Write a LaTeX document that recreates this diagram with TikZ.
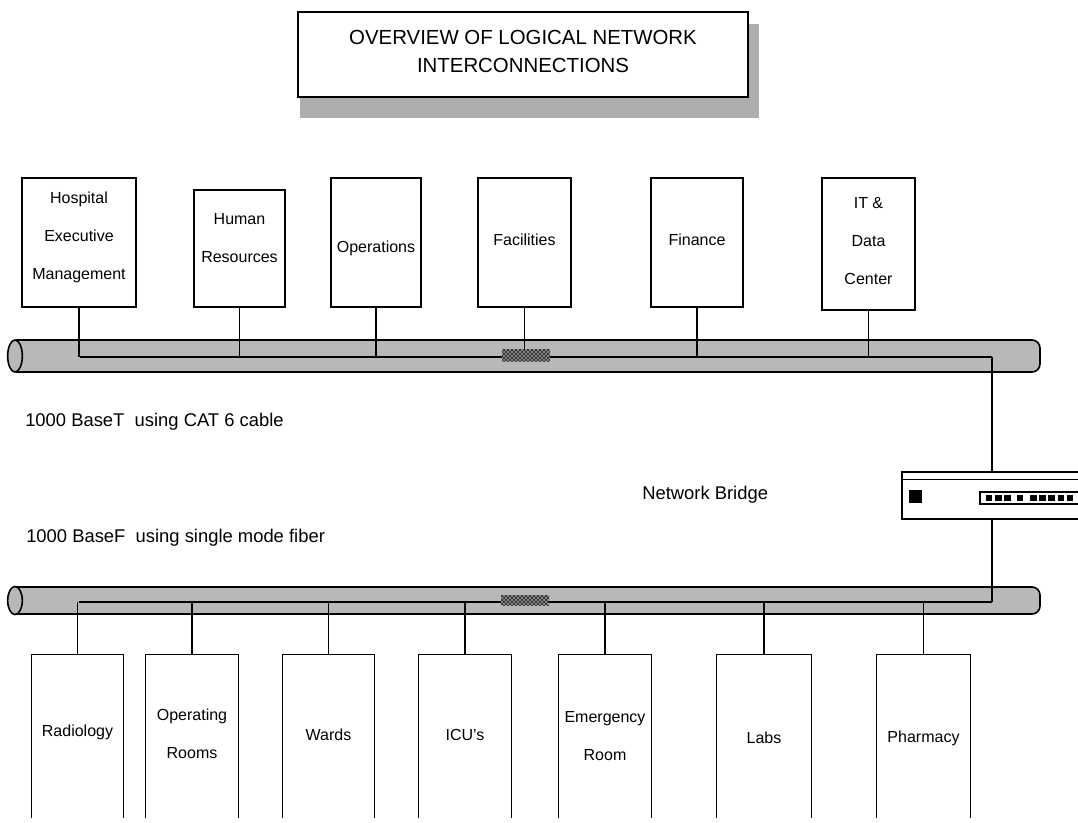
\documentclass[tikz,border=0pt]{standalone}
\usepackage{fontspec}
\setmainfont{Liberation Sans}
\usetikzlibrary{patterns}
\begin{document}
\begin{tikzpicture}[x=0.75pt,y=-0.75pt,
  box/.style={draw, line width=1.1pt, fill=white, inner sep=0pt},
  obox/.style={inner sep=0pt},
  lbl/.style={font=\fontsize{12}{28.5}\selectfont, align=center, inner sep=0pt},
  captxt/.style={font=\fontsize{13.8}{16}\selectfont, anchor=west, inner sep=0pt},
  wire/.style={line width=1pt},
  pipefill/.style={fill=black!28},
  pipeline/.style={line width=1.2pt},
  patchbox/.style={fill=black!45, postaction={pattern=crosshatch, pattern color=black!85}, inner sep=0pt, minimum width=36pt, minimum height=9pt},
]
\useasboundingbox (0,0) rectangle (1078,822);

% ---------- title ----------
\fill[black!32] (300,24) rectangle (759,118);
\draw[line width=1.5pt, fill=white] (298,12) rectangle (748,97);
\node[font=\fontsize{15.3}{21}\selectfont, align=center, inner sep=0pt] (title) at (523,51)
  {OVERVIEW OF LOGICAL NETWORK\\INTERCONNECTIONS};

% ---------- top pipe ----------
\fill[pipefill, rounded corners=6pt] (16,340) -- (1040,340) -- (1040,372) -- (16,372) -- cycle;
\draw[pipeline, rounded corners=6pt] (16,340) -- (1040,340) -- (1040,372) -- (16,372);
\draw[pipeline, pipefill] (15,356) ellipse (5.5pt and 12pt);

% ---------- bottom pipe ----------
\fill[pipefill, rounded corners=6pt] (16,587) -- (1040,587) -- (1040,614) -- (16,614) -- cycle;
\draw[pipeline, rounded corners=6pt] (16,587) -- (1040,587) -- (1040,614) -- (16,614);
\draw[pipeline, pipefill] (15,600.5) ellipse (5.5pt and 10.5pt);

% ---------- top boxes ----------
\node[box, minimum width=85.5pt, minimum height=96.75pt] (hem) at (79,242.5) {};
\node[box, minimum width=68.25pt, minimum height=87.75pt] (hr) at (239.5,248.5) {};
\node[box, minimum width=67.5pt, minimum height=96.75pt] (ops) at (376,242.5) {};
\node[box, minimum width=69.75pt, minimum height=96.75pt] (fac) at (524.5,242.5) {};
\node[box, minimum width=69pt, minimum height=96.75pt] (fin) at (697,242.5) {};
\node[box, minimum width=69.75pt, minimum height=99pt] (it) at (868.5,244) {};

\node[lbl] (hemt) at (79,237.5) {Hospital\\Executive\\Management};
\node[lbl] (hrt) at (239.5,238) {Human\\Resources};
\node[lbl] (opst) at (376,248) {Operations};
\node[lbl] (fact) at (524.5,240) {Facilities};
\node[lbl] (fint) at (697,240) {Finance};
\node[lbl] (itt) at (868.5,241.5) {IT \&\\Data\\Center};

% ---------- bottom boxes (open at the bottom) ----------
\node[obox, minimum width=68.25pt, minimum height=122.25pt] (rad) at (77.5,736.5) {};
\node[obox, minimum width=69pt, minimum height=122.25pt] (opr) at (192,736.5) {};
\node[obox, minimum width=68.25pt, minimum height=122.25pt] (war) at (328.5,736.5) {};
\node[obox, minimum width=69pt, minimum height=122.25pt] (icu) at (465,736.5) {};
\node[obox, minimum width=69pt, minimum height=122.25pt] (er) at (605,736.5) {};
\node[obox, minimum width=70.5pt, minimum height=122.25pt] (lab) at (764,736.5) {};
\node[obox, minimum width=69.75pt, minimum height=122.25pt] (pha) at (923.5,736.5) {};
\foreach \b in {rad,opr,war,icu,er,lab,pha}
  \draw[line width=1.1pt] (\b.south west) |- (\b.north) -| (\b.south east);

\node[lbl] (radt) at (77.5,732) {Radiology};
\node[lbl] (oprt) at (192,733.5) {Operating\\Rooms};
\node[lbl] (wart) at (328.5,735) {Wards};
\node[lbl] (icut) at (465,735) {ICU's};
\node[lbl] (ert) at (605,736.5) {Emergency\\Room};
\node[lbl] (labt) at (764,738) {Labs};
\node[lbl] (phat) at (923.5,738) {Pharmacy};

% ---------- bridge ----------
\node[draw, line width=1.1pt, fill=white, inner sep=0pt, minimum width=141pt, minimum height=35.25pt] (bridge) at (996,495.5) {};
\draw[line width=0.6pt] (902,479) -- (1090,479);
\node[fill=black, inner sep=0pt, minimum width=9.75pt, minimum height=9.75pt] (led) at (915.5,496.5) {};
\node[draw, line width=1pt, inner sep=0pt, minimum width=82.5pt, minimum height=9pt] (ports) at (1035,498) {};
\foreach \a/\b in {986/992,995/1002,1004/1011,1017/1023,1030/1037,1039/1046,1048/1055,1058/1064,1067/1073}
  \fill (\a,495) rectangle (\b,501);

% ---------- bus lines ----------
\coordinate (tbus) at (80,357);
\coordinate (tbr) at (992,357);
\coordinate (bbus) at (79,602);
\coordinate (bbr) at (992,602);

\draw[wire] (tbus) -- (tbr);
\draw[wire] (bbus) -- (bbr);
\foreach \b in {hem,hr,ops,fin,it}
  \draw[wire] (\b.south) -- (\b.south |- tbus);
\foreach \b in {rad,opr,war,icu,er,lab,pha}
  \draw[wire] (\b.north) -- (\b.north |- bbus);
\draw[wire] (tbr) -- (tbr |- bridge.north);
\draw[wire] (bbr |- bridge.south) -- (bbr);

\node[patchbox] (tpatch) at (526,355) {};
\node[patchbox, minimum height=7.5pt] (bpatch) at (525,600) {};
\draw[wire] (fac.south) -- (fac.south |- tpatch.north);

% ---------- captions ----------
\node[captxt] (capT) at (25,422) {1000 BaseT\ \ using CAT 6 cable};
\node[captxt] (capB) at (642,495) {Network Bridge};
\node[captxt] (capF) at (26,538) {1000 BaseF\ \ using single mode fiber};
\end{tikzpicture}
\end{document}
